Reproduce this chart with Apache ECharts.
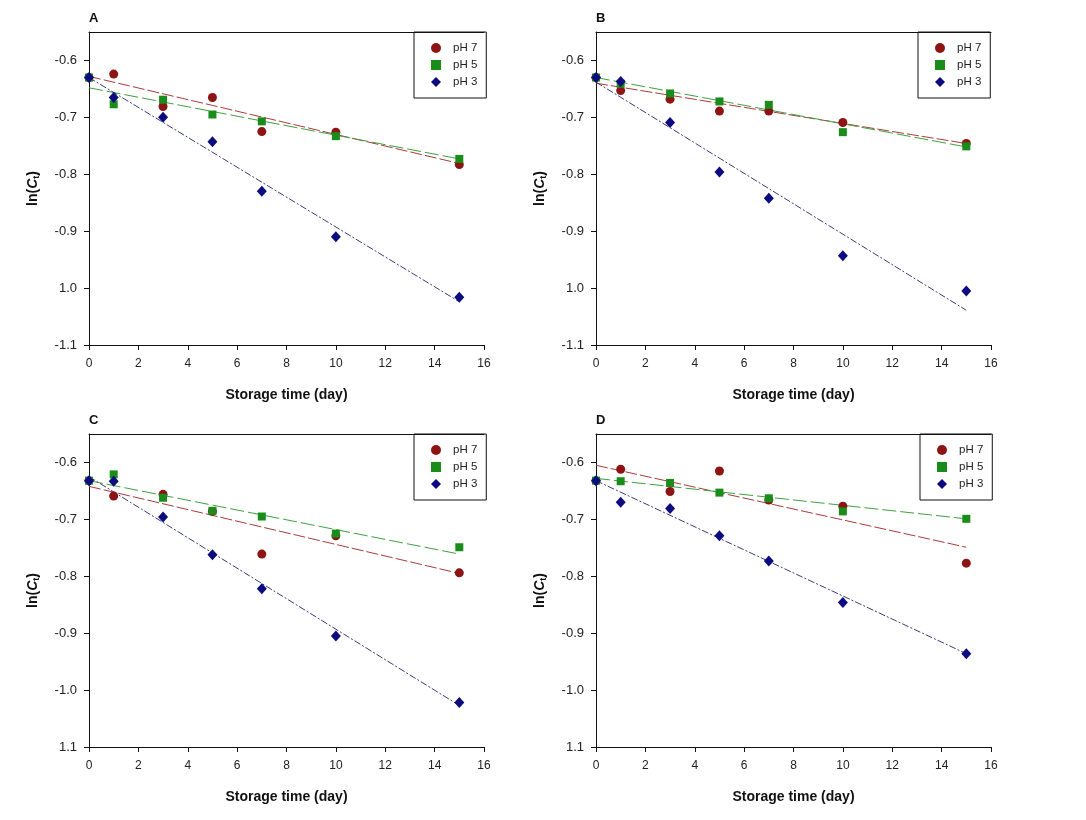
<!DOCTYPE html>
<html>
<head>
<meta charset="utf-8">
<script src="https://cdn.jsdelivr.net/npm/echarts@6/dist/echarts.min.js"></script>
<style>html,body{margin:0;padding:0;background:#fff;}#chart{width:1086px;height:820px;}</style>
</head>
<body>
<div id="chart"></div>
<script>
// ---- data ----
const days = [0, 1, 3, 5, 7, 10, 15];
const fitDays = [0, 15];
const seriesNames = ['pH 7', 'pH 5', 'pH 3'];
const panelLetters = ['A', 'B', 'C', 'D'];

const A_pH7 = [-0.630, -0.624, -0.681, -0.665, -0.725, -0.726, -0.783];
const A_pH5 = [-0.630, -0.677, -0.669, -0.695, -0.707, -0.733, -0.773];
const A_pH3 = [-0.630, -0.665, -0.700, -0.743, -0.830, -0.910, -1.016];
const A_fit7 = [-0.628, -0.781];
const A_fit5 = [-0.648, -0.773];
const A_fit3 = [-0.630, -1.024];

const B_pH7 = [-0.630, -0.653, -0.668, -0.689, -0.689, -0.709, -0.746];
const B_pH5 = [-0.630, -0.641, -0.658, -0.672, -0.678, -0.726, -0.751];
const B_pH3 = [-0.630, -0.637, -0.709, -0.796, -0.842, -0.943, -1.005];
const B_fit7 = [-0.640, -0.746];
const B_fit5 = [-0.630, -0.752];
const B_fit3 = [-0.638, -1.039];

const C_pH7 = [-0.632, -0.659, -0.656, -0.686, -0.761, -0.729, -0.794];
const C_pH5 = [-0.632, -0.621, -0.662, -0.685, -0.695, -0.725, -0.749];
const C_pH3 = [-0.632, -0.633, -0.696, -0.762, -0.822, -0.905, -1.022];
const C_fit7 = [-0.642, -0.795];
const C_fit5 = [-0.632, -0.761];
const C_fit3 = [-0.625, -1.027];

const D_pH7 = [-0.632, -0.612, -0.651, -0.615, -0.666, -0.677, -0.777];
const D_pH5 = [-0.632, -0.633, -0.636, -0.653, -0.663, -0.686, -0.699];
const D_pH3 = [-0.632, -0.670, -0.681, -0.729, -0.773, -0.846, -0.936];
const D_fit7 = [-0.605, -0.749];
const D_fit5 = [-0.628, -0.699];
const D_fit3 = [-0.632, -0.936];

const yTickValues = [-1.1, -1.0, -0.9, -0.8, -0.7, -0.6];
const yLabelsAB = ['-1.1', '1.0', '-0.9', '-0.8', '-0.7', '-0.6'];
const yLabelsCD = ['1.1', '-1.0', '-0.9', '-0.8', '-0.7', '-0.6'];
const xTickValues = [0, 2, 4, 6, 8, 10, 12, 14, 16];

const panels = [
  { pts: [A_pH7, A_pH5, A_pH3], fits: [A_fit7, A_fit5, A_fit3], yLabels: yLabelsAB },
  { pts: [B_pH7, B_pH5, B_pH3], fits: [B_fit7, B_fit5, B_fit3], yLabels: yLabelsAB },
  { pts: [C_pH7, C_pH5, C_pH3], fits: [C_fit7, C_fit5, C_fit3], yLabels: yLabelsCD },
  { pts: [D_pH7, D_pH5, D_pH3], fits: [D_fit7, D_fit5, D_fit3], yLabels: yLabelsCD }
];

// ---- styles ----
const markerColors = ['#8c1414', '#1a8c1a', '#0c0c80'];
const lineColors = ['#a83c3c', '#3fa03f', '#3c3c7c'];
const lineDashes = [[12, 3], [14, 4], [7, 2, 2, 2]];
const symbols = ['circle', 'rect', 'diamond'];
const symbolSizes = [9, 8, [10, 11]];
const gridPos = [
  { left: 89, top: 32 }, { left: 596, top: 32 },
  { left: 89, top: 434 }, { left: 596, top: 434 }
];
const legendPos = [
  { left: 414, top: 32 }, { left: 918, top: 32 },
  { left: 414, top: 434 }, { left: 920, top: 434 }
];
const FONT = 'Liberation Sans, Arial, sans-serif';
const black = '#111';

const grid = [], xAxis = [], yAxis = [], series = [], legend = [], title = [];
panels.forEach((p, i) => {
  grid.push({ left: gridPos[i].left, top: gridPos[i].top, width: 395, height: 313 });
  title.push({
    text: panelLetters[i], left: gridPos[i].left, top: gridPos[i].top - 20,
    textStyle: { fontSize: 13, fontWeight: 'bold', color: black, fontFamily: FONT }, padding: 0
  });
  xAxis.push({
    type: 'value', gridIndex: i, min: 0, max: 16, interval: 2,
    name: 'Storage time (day)', nameLocation: 'middle', nameGap: 43,
    nameTextStyle: { fontSize: 14, fontWeight: 'bold', color: black, fontFamily: FONT },
    axisLine: { show: true, onZero: false, lineStyle: { color: black, width: 1 } },
    axisTick: { show: true, inside: false, length: 5, lineStyle: { color: black } },
    axisLabel: { margin: 13, fontSize: 12, color: '#222', fontFamily: FONT },
    splitLine: { show: false }
  });
  xAxis.push({
    type: 'value', gridIndex: i, min: 0, max: 16, position: 'top',
    axisLine: { show: true, onZero: false, lineStyle: { color: black, width: 1 } },
    axisTick: { show: false }, axisLabel: { show: false }, splitLine: { show: false }
  });
  const labs = p.yLabels;
  yAxis.push({
    type: 'value', gridIndex: i, min: -1.1, max: -0.55,
    name: '{b|ln(}{i|C}{s|t}{b|)}', nameLocation: 'middle', nameGap: 48, nameRotate: 90,
    nameTextStyle: {
      rich: {
        b: { fontSize: 14, fontWeight: 'bold', color: black, fontFamily: FONT },
        i: { fontSize: 14, fontWeight: 'bold', fontStyle: 'italic', color: black, fontFamily: FONT },
        s: { fontSize: 9, fontWeight: 'bold', color: black, fontFamily: FONT, verticalAlign: 'bottom', padding: [6, 0, 0, 0] }
      }
    },
    axisLine: { show: true, onZero: false, lineStyle: { color: black, width: 1 } },
    axisTick: { show: true, inside: false, length: 5, customValues: yTickValues, lineStyle: { color: black } },
    axisLabel: {
      margin: 12, fontSize: 13, color: '#222', fontFamily: FONT, customValues: yTickValues,
      formatter: function (v) {
        const k = yTickValues.findIndex(t => Math.abs(t - v) < 1e-6);
        return k >= 0 ? labs[k] : '';
      }
    },
    splitLine: { show: false }
  });
  // fitted lines
  p.fits.forEach((f, s) => {
    series.push({
      type: 'line', name: 'fit ' + panelLetters[i] + ' ' + seriesNames[s],
      xAxisIndex: i * 2, yAxisIndex: i,
      data: fitDays.map((d, k) => [d, f[k]]),
      symbol: 'none', silent: true, z: 2,
      lineStyle: { color: lineColors[s], width: 1, type: lineDashes[s] }
    });
  });
  // points
  p.pts.forEach((vals, s) => {
    series.push({
      type: 'scatter', name: seriesNames[s],
      xAxisIndex: i * 2, yAxisIndex: i,
      data: days.map((d, k) => [d, vals[k]]),
      symbol: symbols[s], symbolSize: symbolSizes[s], z: 3 + s,
      itemStyle: { color: markerColors[s], opacity: 1 }
    });
  });
  legend.push({
    orient: 'vertical', left: legendPos[i].left, top: legendPos[i].top,
    borderColor: black, borderWidth: 1, borderRadius: 0,
    padding: [10, 9, 10, 17], itemWidth: 10, itemHeight: 10, itemGap: 5,
    textStyle: { fontSize: 11.5, color: '#222', fontFamily: FONT, padding: [0, 0, 0, 7] },
    selectedMode: false,
    data: seriesNames.map((n, s) => ({ name: n, icon: symbols[s] }))
  });
});

const chart = echarts.init(document.getElementById('chart'), null, { renderer: 'canvas' });
chart.setOption({
  backgroundColor: '#fff', animation: false,
  title, grid, xAxis, yAxis, legend, series
});
</script>
</body>
</html>
